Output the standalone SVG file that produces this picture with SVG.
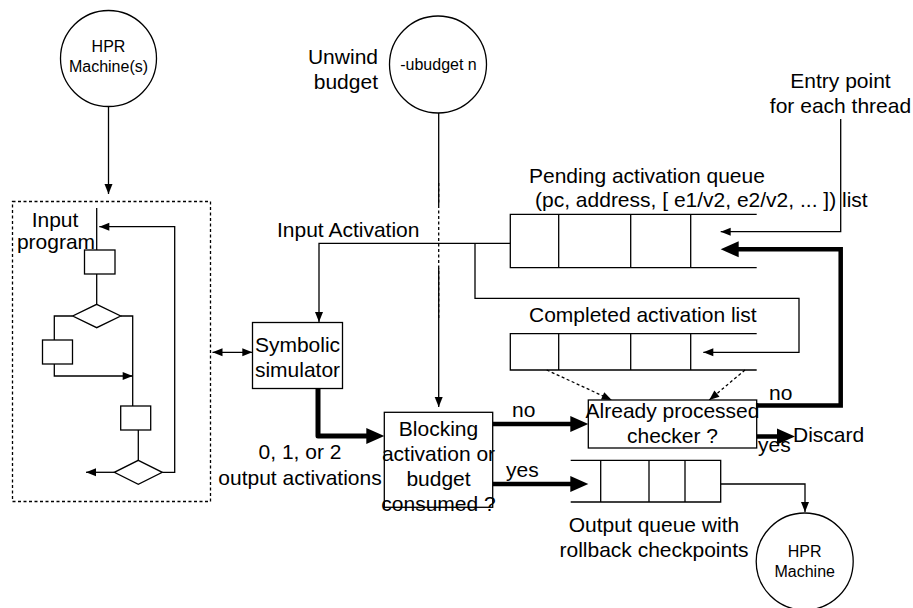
<svg xmlns="http://www.w3.org/2000/svg" width="913" height="608" viewBox="0 0 913 608">
<style>
.s{fill:none;stroke:#000;stroke-width:1.3}
.b{fill:#fff;stroke:#000;stroke-width:1.3}
.t{font-family:"Liberation Sans",Arial,sans-serif;font-size:21px;fill:#000}
.sm{font-family:"Liberation Sans",Arial,sans-serif;font-size:16px;fill:#000}
.m{text-anchor:middle}
.e{text-anchor:end}
.th{fill:none;stroke:#000;stroke-width:4.5}
.d{fill:none;stroke:#000;stroke-width:1.3;stroke-dasharray:3,2.5}
</style>
<defs>
<marker id="a" markerUnits="userSpaceOnUse" markerWidth="11" markerHeight="9" refX="10" refY="4" orient="auto-start-reverse" overflow="visible">
<path d="M0,0 L10,4 L0,8 z" fill="#000"/>
</marker>
<marker id="B" markerUnits="userSpaceOnUse" markerWidth="19" markerHeight="17" refX="10" refY="8" orient="auto" overflow="visible">
<path d="M0,0 L18,8 L0,16 z" fill="#000"/>
</marker>
</defs>
<rect width="913" height="608" fill="#fff"/>

<g id="connectors">
<path class="s" d="M108.5,106.5 V194" marker-end="url(#a)"/>
<path class="s" d="M438.7,113 V205"/>
<path class="d" d="M438.7,183 V320"/>
<path class="s" d="M438.7,268 V407" marker-end="url(#a)"/>
<path class="s" d="M212.5,352.3 H252.3" marker-start="url(#a)" marker-end="url(#a)"/>
<path class="s" d="M510.3,243.3 H319 V322" marker-end="url(#a)"/>
<path class="s" d="M475,243.3 V298.3 H799 V352.3 H703.3" marker-end="url(#a)"/>
<path class="s" d="M840.7,119 V231.7 H720.7" marker-end="url(#a)"/>
<path class="th" d="M756.7,405.5 H840.7 V249.3 H728.7" marker-end="url(#B)"/>
<path class="d" d="M546.7,370 L611.7,400" marker-end="url(#a)"/>
<path class="d" d="M745,370 L709.3,400" marker-end="url(#a)"/>
<path class="th" style="stroke-width:5;stroke-linejoin:round" d="M318,388.3 V436 H376.3" marker-end="url(#B)"/>
<path class="th" d="M492.7,424 H580.3" marker-end="url(#B)"/>
<path class="th" d="M492.7,484 H580.3" marker-end="url(#B)"/>
<path class="th" d="M756.7,436.5 H787" marker-end="url(#B)"/>
<path class="s" d="M720.7,484 H805 V512" marker-end="url(#a)"/>
</g>

<g id="hpr-machines">
<circle class="b" cx="108.5" cy="58.5" r="48"/>
<text class="sm m" x="108.5" y="52">HPR</text>
<text class="sm m" x="108.5" y="72">Machine(s)</text>
</g>

<g id="unwind-budget">
<circle class="b" cx="438" cy="64.5" r="48.5"/>
<text class="sm m" x="438.5" y="70">-ubudget n</text>
<text class="t e" x="378" y="64">Unwind</text>
<text class="t e" x="378" y="89">budget</text>
</g>

<g id="input-program">
<rect class="d" x="12.5" y="201.5" width="198" height="300"/>
<path class="s" d="M96.7,208 V250"/>
<rect class="b" x="84.5" y="250" width="30.5" height="24"/>
<path class="s" d="M96.7,274 V304.3"/>
<polygon class="b" points="96.7,304.3 120.7,316 96.7,327.7 72.7,316"/>
<path class="s" d="M72.7,316 H54.3 V340"/>
<rect class="b" x="42.5" y="340" width="30" height="24"/>
<path class="s" d="M54.3,364 V376 H132.7" marker-end="url(#a)"/>
<path class="s" d="M120.7,316 H132.7 V406"/>
<rect class="b" x="120.7" y="406" width="30" height="24"/>
<path class="s" d="M138.3,430 V460.3"/>
<polygon class="b" points="138.3,460.3 162.3,472.3 138.3,484.3 114.3,472.3"/>
<path class="s" d="M114.3,472.3 H86" marker-end="url(#a)"/>
<path class="s" d="M162.3,472.3 H174.7 V226.7 H99.3" marker-end="url(#a)"/>
<text class="t m" x="55" y="227">Input</text>
<text class="t m" x="56" y="249">program</text>
</g>

<g id="symbolic-simulator">
<rect class="b" x="252.5" y="322.5" width="90" height="66"/>
<text class="t m" x="297.5" y="351.5">Symbolic</text>
<text class="t m" x="297.5" y="377">simulator</text>
</g>

<g id="input-activation-label">
<text class="t" x="277" y="237">Input Activation</text>
</g>

<g id="pending-queue">
<path class="s" d="M756.7,214.3 H510.3 V267.7 H756.7 M558.7,214.3 V267.7 M630.7,214.3 V267.7 M690.7,214.3 V267.7"/>
<text class="t" x="529" y="183">Pending activation queue</text>
<text class="t" x="535" y="207">(pc, address, [ e1/v2, e2/v2, ... ]) list</text>
</g>

<g id="entry-point">
<text class="t m" x="840.5" y="88">Entry point</text>
<text class="t m" x="840.5" y="113">for each thread</text>
</g>

<g id="completed-list">
<path class="s" d="M756.7,333.7 H510.3 V370 H756.7 M558.7,333.7 V370 M630.7,333.7 V370 M690.7,333.7 V370"/>
<text class="t" x="529" y="322">Completed activation list</text>
</g>

<g id="checker">
<rect class="b" x="588.3" y="400" width="168.4" height="48"/>
<text class="t m" x="672.5" y="418">Already processed</text>
<text class="t m" x="672.5" y="443">checker ?</text>
</g>

<g id="blocking">
<rect class="b" x="384.3" y="412.3" width="108.4" height="95"/>
<text class="t m" x="438.5" y="436">Blocking</text>
<text class="t m" x="438.5" y="461">activation or</text>
<text class="t m" x="438.5" y="486">budget</text>
<text class="t m" x="438.5" y="511">consumed ?</text>
</g>

<g id="output-count-label">
<text class="t m" x="300" y="459">0, 1, or 2</text>
<text class="t m" x="300" y="485">output activations</text>
</g>

<g id="output-queue">
<path class="s" d="M570.7,460.3 H720.7 V502 H570.7 M600.7,460.3 V502 M649,460.3 V502 M685,460.3 V502"/>
<text class="t m" x="654" y="532">Output queue with</text>
<text class="t m" x="654" y="557">rollback checkpoints</text>
</g>

<g id="discard">
<text class="t" x="793" y="442">Discard</text>
</g>

<g id="edge-labels">
<text class="t" x="512" y="417">no</text>
<text class="t" x="506" y="477">yes</text>
<text class="t" x="769" y="400">no</text>
<text class="t" x="758" y="452">yes</text>
</g>

<g id="hpr-machine">
<circle class="b" cx="804.7" cy="561.5" r="48.5"/>
<text class="sm m" x="804.7" y="557">HPR</text>
<text class="sm m" x="804.7" y="577">Machine</text>
</g>
</svg>
